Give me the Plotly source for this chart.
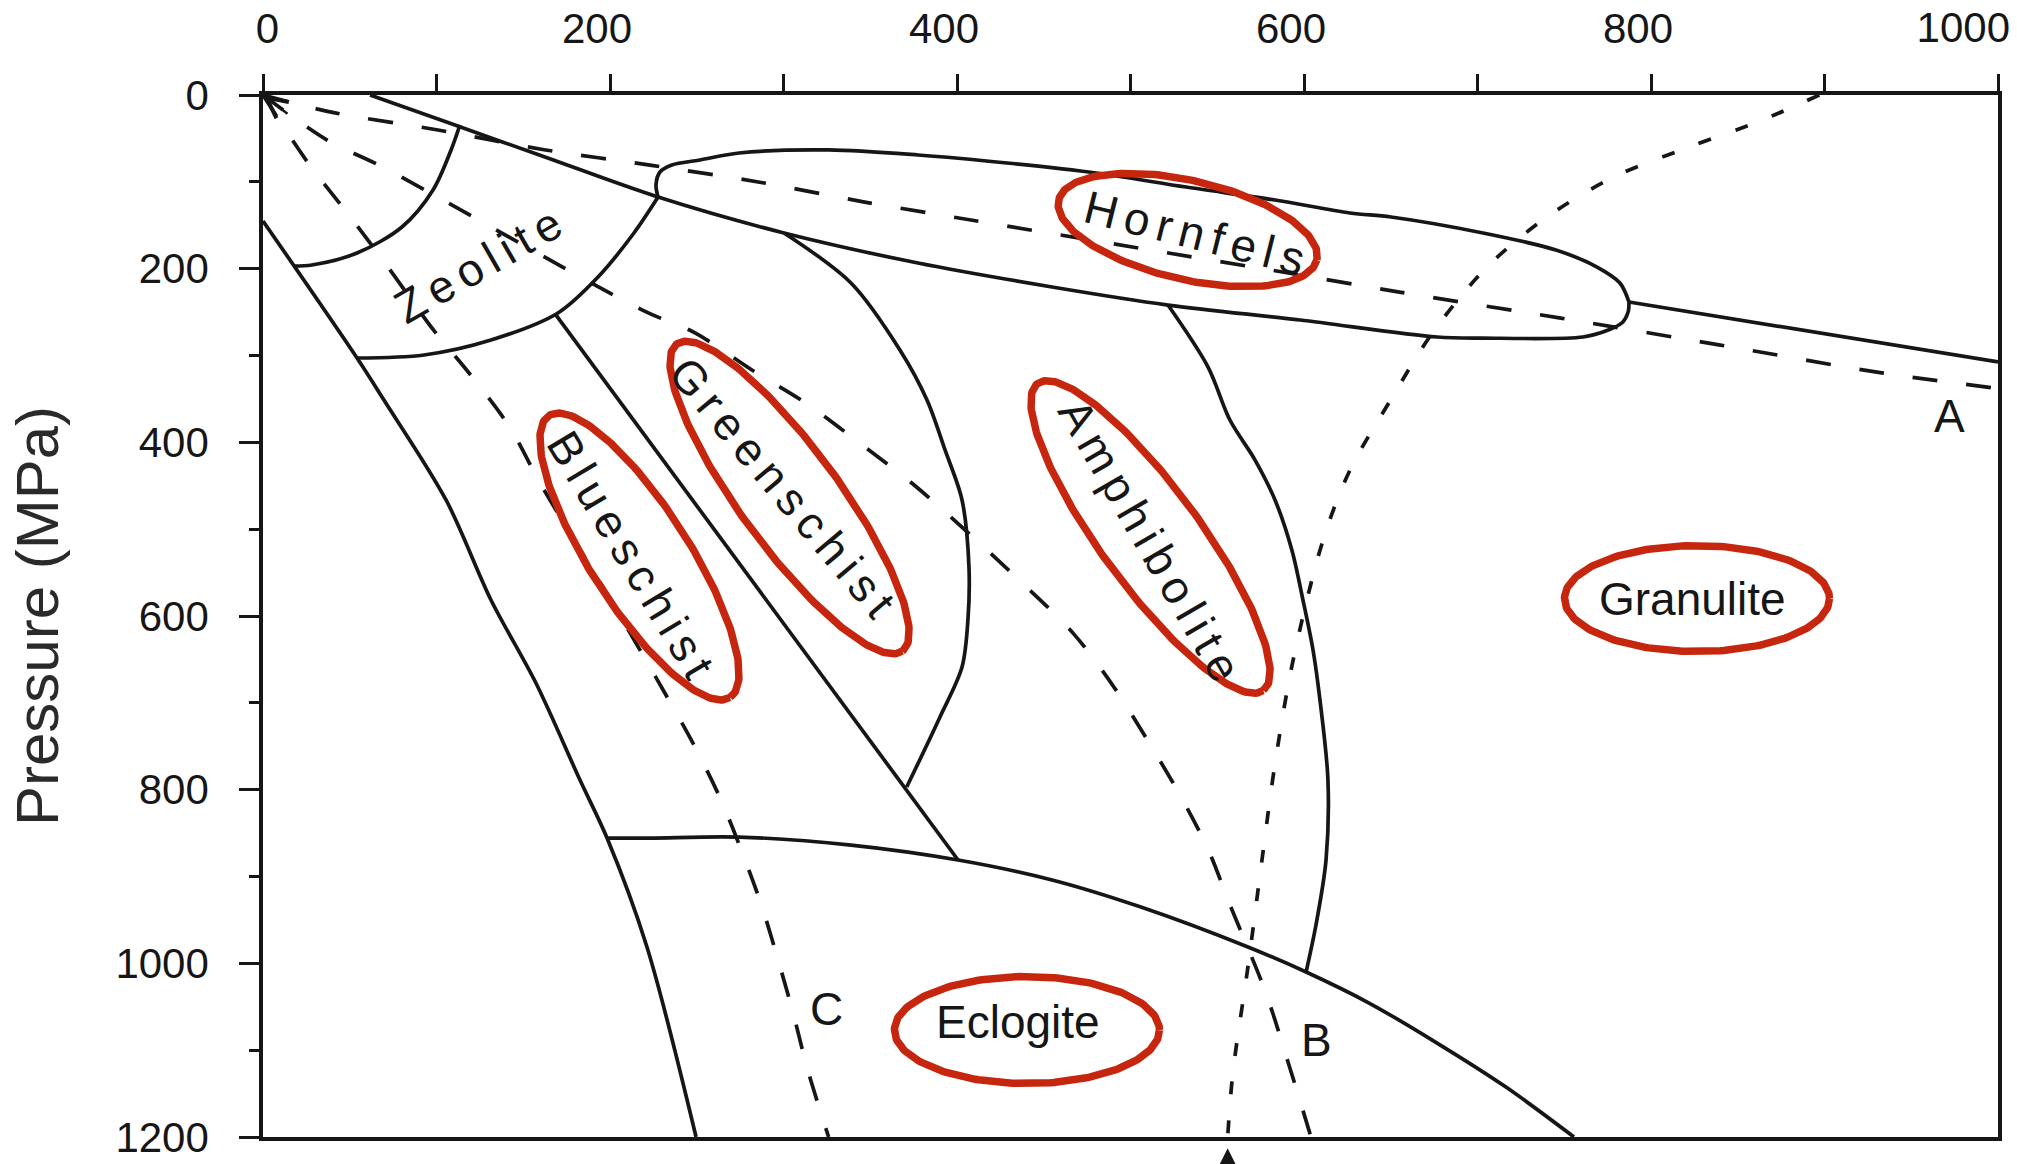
import numpy as np
import plotly.graph_objects as go

# ---------------------------------------------------------------
# Metamorphic facies diagram: temperature (°C) vs pressure (MPa)
# ---------------------------------------------------------------

NBSP = "\u00a0"
THIN = "\u2006"

# Axis ticks
x_tick_values = [0, 100, 200, 300, 400, 500, 600, 700, 800, 900, 1000]
x_tick_labels = [NBSP * 3 + "0", "", "200", "", "400", "", "600", "", "800", "", ""]
x_end_value = [1000]
x_end_label = ["1000"]
y_tick_values = [0, 200, 400, 600, 800, 1000, 1200]
y_minor_values = [100, 300, 500, 700, 900, 1100]

# Solid facies boundaries (T in °C, P in MPa)
# upper boundary + lower edge of the hornfels field
upper_T = [61.7, 107.8, 162.5, 227.7, 300.3, 377.5, 454.8, 521.6, 597.7, 676.7,
           703.2, 760.8, 775.0, 783.5, 786.8, 787.3]
upper_P = [0.0, 32.6, 71.4, 117.5, 158.9, 193.5, 221.1, 241.9, 259.1, 278.7,
           279.9, 278.7, 271.0, 262.0, 250.0, 238.4]
# continuation to the right-hand edge
right_T = [787.3, 1000.0]
right_P = [238.4, 307.4]

# upper edge of the hornfels field
hornfels_T = [227.7, 226.5, 228.8, 235.7, 251.9, 274.4, 326.2, 377.5, 428.8, 480.1,
              532.0, 583.3, 626.5, 650.1, 703.2, 745.2, 768.9, 782.1, 787.3]
hornfels_P = [117.5, 103.7, 88.7, 80.6, 74.9, 66.8, 63.3, 69.1, 78.3, 89.8,
              106.0, 120.9, 135.9, 140.5, 158.9, 178.5, 198.1, 216.5, 238.4]

# inner and outer zeolite arcs
zeolite_in_T = [113.5, 108.4, 98.0, 80.1, 54.2, 28.2, 17.9]
zeolite_in_P = [34.6, 63.3, 109.4, 152.0, 182.0, 195.8, 197.0]
zeolite_out_T = [227.7, 213.8, 193.1, 170.0, 131.4, 92.8, 54.2]
zeolite_out_P = [117.5, 158.9, 209.6, 251.0, 282.2, 299.4, 302.9]

# low-temperature boundary of the blueschist field
left_T = [0.0, 54.2, 69.7, 105.5, 131.4, 157.3, 182.7, 198.3, 221.3, 249.6]
left_P = [145.1, 302.9, 351.3, 466.4, 581.6, 677.2, 788.9, 855.7, 981.2, 1200.0]

# upper limit of the eclogite field
eclogite_T = [198.3, 223.1, 274.4, 338.9, 400.6, 454.8, 506.0, 567.7, 601.2,
              637.5, 676.7, 716.4, 755.6]
eclogite_P = [855.7, 855.7, 854.6, 863.8, 881.0, 904.0, 935.2, 981.2, 1010.0,
              1045.7, 1091.8, 1142.5, 1200.0]

# blueschist / greenschist boundary
blue_green_T = [168.9, 400.6]
blue_green_P = [253.4, 881.0]

# greenschist / amphibolite boundary
green_amph_T = [300.3, 338.9, 367.1, 382.7, 393.1, 402.9, 406.9, 406.3, 402.9, 390.2, 371.0]
green_amph_P = [158.9, 216.5, 293.7, 351.3, 408.8, 466.4, 543.6, 604.6, 658.8, 716.3, 797.0]

# amphibolite / granulite boundary
amph_gran_T = [521.6, 544.7, 557.3, 571.8, 583.3, 593.0, 599.4, 605.2, 609.2, 613.8,
               612.7, 606.9, 601.2]
amph_gran_P = [241.9, 313.3, 374.3, 420.4, 466.4, 524.0, 581.6, 639.2, 696.8, 788.9,
               881.0, 955.9, 1010.0]

# Geotherms A, B, C (dashed) and the dotted curve
geo_A_T = [0, 40, 100, 162, 224, 288, 346, 408, 501, 591, 655, 748, 840, 933, 1000]
geo_A_P = [0, 20, 40, 63, 81, 101, 123, 144, 175, 205, 227, 257, 288, 320, 338]
geo_B_T = [0, 37, 69, 219, 249, 282, 313, 344, 377, 436, 467, 490.5, 511, 529, 545,
           557, 578, 591, 601, 604]
geo_B_P = [0, 52, 83, 248, 274, 317, 355, 401, 452, 559, 620, 682, 747, 808, 870,
           931, 1034, 1115, 1180, 1200]
geo_C_T = [0, 25.9, 49, 72, 98, 118.7, 142, 159.7, 180.4, 198, 231.7, 249, 264,
           277.2, 287.6, 297.4, 305.5, 314, 326]
geo_C_P = [0, 78, 137, 198, 270, 320, 382, 447, 516, 573.5, 689, 751, 812,
           877.6, 935, 999.7, 1057, 1123, 1200]
dotted_T = [897, 864, 822, 779, 740, 705.5, 674, 650, 626.5, 611, 593.7, 583, 576,
            567.7, 559, 556]
dotted_P = [0, 29, 60, 94, 140.5, 198, 274, 351, 432, 512.5, 651, 774, 877.6,
            1004, 1126, 1200]

# Facies names and label placement
facies_names = ["Zeolite", "Hornfels", "Greenschist", "Blueschist", "Amphibolite",
                "Granulite", "Eclogite"]
facies_T = [124, 537, 299, 212, 511, 824, 435]
facies_P = [196, 159, 452, 530, 513, 580, 1067]
facies_angle = [-30, 14, 50, 59, 60, 0, 0]
facies_spaced = [True, True, True, True, True, False, False]

# Red rings around the labels: centre (T, P), semi-axes (px), tilt (deg)
ring_names = ["Hornfels", "Greenschist", "Blueschist", "Amphibolite", "Granulite", "Eclogite"]
ring_T = [533.0, 303.5, 217.0, 511.5, 826.5, 440.3]
ring_P = [155.5, 463.6, 531.5, 509.0, 579.9, 1076.8]
ring_a = [132.5, 190.5, 167.5, 190.5, 132.5, 132.5]
ring_b = [49.5, 49.5, 49.5, 49.5, 53.0, 53.5]
ring_tilt = [13.0, 53.7, 57.3, 53.7, 0.0, 0.0]

# Geotherm letters
letter_text = ["A", "B", "C"]
letter_T = [972, 607, 325]
letter_P = [370, 1088, 1053]

# ---------------------------------------------------------------
W, H = 2017, 1164
MARGIN = dict(l=263, r=19, t=95, b=27)
PX_PER_C = (W - MARGIN["l"] - MARGIN["r"]) / 1000.0
PX_PER_MPA = (H - MARGIN["t"] - MARGIN["b"]) / 1200.0

INK = "#161616"
RED = "rgb(198,38,14)"
FONT = "Liberation Sans, Arial, Helvetica, sans-serif"
LW = 3.7

fig = go.Figure()


def add_line(t, p, dash="solid", width=LW, smooth=True, xaxis="x"):
    fig.add_trace(go.Scatter(x=t, y=p, mode="lines", xaxis=xaxis,
                             line=dict(color=INK, width=width, dash=dash,
                                       shape="spline" if smooth else "linear",
                                       smoothing=0.9 if smooth else None),
                             hoverinfo="skip", showlegend=False))


for t, p in [(upper_T, upper_P), (hornfels_T, hornfels_P),
             (zeolite_in_T, zeolite_in_P), (zeolite_out_T, zeolite_out_P),
             (left_T, left_P), (eclogite_T, eclogite_P),
             (green_amph_T, green_amph_P), (amph_gran_T, amph_gran_P)]:
    add_line(t, p)
add_line(right_T, right_P, smooth=False, xaxis="x2")
add_line(blue_green_T, blue_green_P, smooth=False)

for t, p in [(geo_A_T, geo_A_P), (geo_B_T, geo_B_P), (geo_C_T, geo_C_P)]:
    add_line(t, p, dash="25px,29px")
add_line(dotted_T, dotted_P, dash="13px,26px")


def ring(tc, pc, a_px, b_px, tilt_deg, n=240):
    s = np.linspace(0, 2 * np.pi, n)
    th = np.radians(tilt_deg)
    dx = a_px * np.cos(s) * np.cos(th) - b_px * np.sin(s) * np.sin(th)
    dy = a_px * np.cos(s) * np.sin(th) + b_px * np.sin(s) * np.cos(th)
    return tc + dx / PX_PER_C, pc + dy / PX_PER_MPA


for tc, pc, a, b, tilt in zip(ring_T, ring_P, ring_a, ring_b, ring_tilt):
    rx, ry = ring(tc, pc, a, b, tilt)
    fig.add_trace(go.Scatter(x=rx, y=ry, mode="lines",
                             line=dict(color=RED, width=7.5),
                             hoverinfo="skip", showlegend=False))

for name, t, p, ang, sp in zip(facies_names, facies_T, facies_P, facies_angle, facies_spaced):
    txt = THIN.join(name) if sp else name
    fig.add_annotation(x=t, y=p, text=txt, textangle=ang, showarrow=False,
                       font=dict(family=FONT, size=46, color=INK))

for name, t, p in zip(letter_text, letter_T, letter_P):
    fig.add_annotation(x=t, y=p, text=name, showarrow=False,
                       font=dict(family=FONT, size=46, color=INK))

# arrowhead where the geotherms meet at the origin
fig.add_annotation(x=0, y=0, ax=26, ay=20, text="", showarrow=True,
                   arrowhead=5, arrowsize=1.6, arrowwidth=2.5, arrowcolor=INK)
# arrow beneath the axis at the foot of the dotted curve
fig.add_annotation(x=556, xref="x", y=1 - 1213 / 1200.0, yref="paper",
                   ax=0, ay=45, text="", showarrow=True,
                   arrowhead=2, arrowsize=1.5, arrowwidth=2.5, arrowcolor=INK)

x_common = dict(range=[0, 1000], side="top", showgrid=False, zeroline=False,
                automargin=False, tickfont=dict(family=FONT, size=42, color=INK))

fig.update_layout(
    width=W, height=H, margin=MARGIN,
    paper_bgcolor="white", plot_bgcolor="white",
    showlegend=False,
    font=dict(family=FONT, color=INK),
    xaxis=dict(
        **x_common,
        showline=True, mirror=True, linecolor=INK, linewidth=3.5,
        ticks="outside", ticklen=17, tickwidth=3, tickcolor=INK,
        tickmode="array", tickvals=x_tick_values, ticktext=x_tick_labels,
        ticklabelshift=-13, ticklabelstandoff=14,
    ),
    # the last temperature label sits flush against the right edge
    xaxis2=dict(
        **x_common,
        overlaying="x", anchor="y", showline=False, ticks="",
        tickmode="array", tickvals=x_end_value, ticktext=x_end_label,
        ticklabelposition="outside left", ticklabelshift=12, ticklabelstandoff=44,
    ),
    yaxis=dict(
        range=[1200, 0], showgrid=False, zeroline=False,
        automargin=False,
        showline=True, mirror=True, linecolor=INK, linewidth=3.5,
        ticks="outside", ticklen=20, tickwidth=3, tickcolor=INK,
        tickmode="array", tickvals=y_tick_values,
        tickfont=dict(family=FONT, size=42, color=INK),
        ticklabelstandoff=22,
        minor=dict(tickmode="array", tickvals=y_minor_values, ticks="outside",
                   ticklen=10, tickwidth=3, tickcolor=INK, showgrid=False),
        title=dict(text="Pressure (MPa)" + NBSP * 3, standoff=38,
                   font=dict(family=FONT, size=60, color="#2a2a2a")),
    ),
)

fig.write_html("out.html")
